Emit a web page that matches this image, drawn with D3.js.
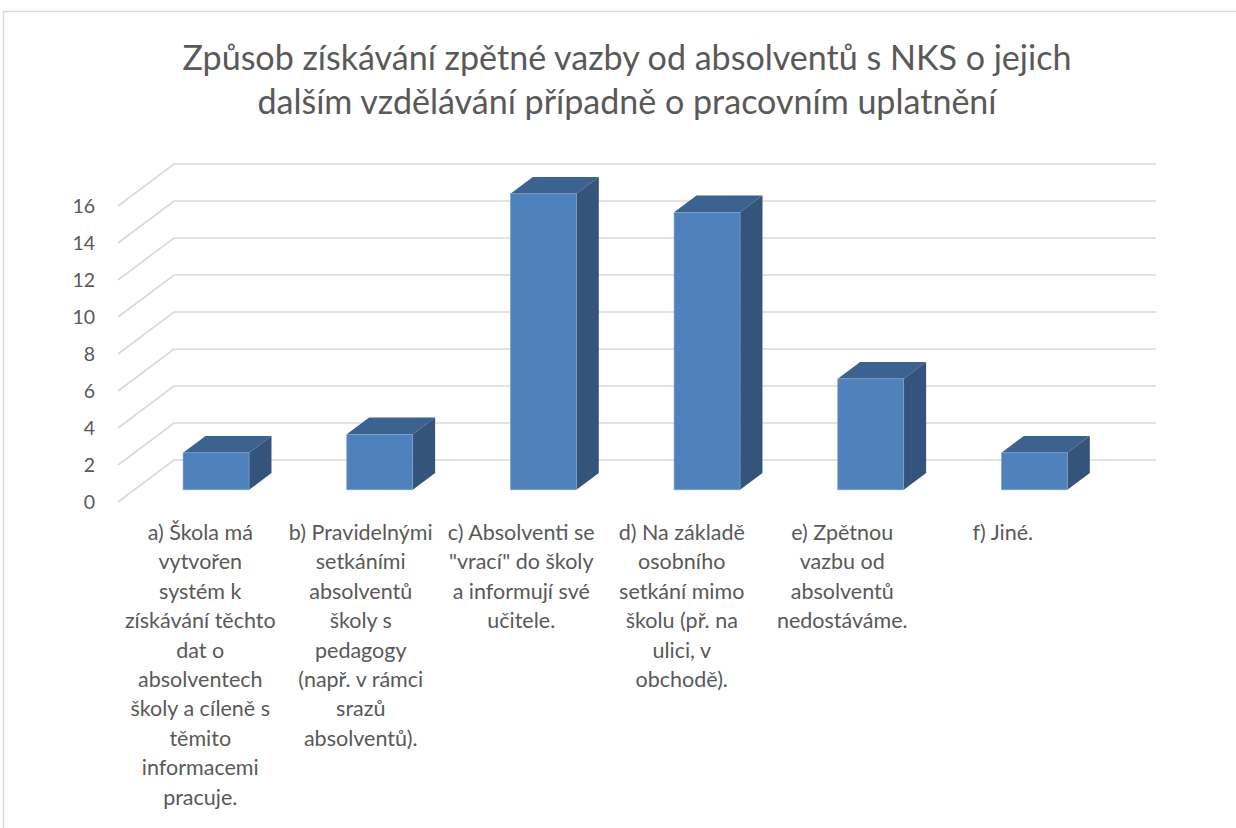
<!DOCTYPE html>
<html>
<head>
<meta charset="utf-8">
<script src="https://cdn.jsdelivr.net/npm/d3@7"></script>
<style>
  body { margin: 0; background: #fff; overflow: hidden; }
  svg { display: block; }
  text { font-family: Lato, "Open Sans", sans-serif; fill: #595959; }
</style>
</head>
<body>
<script>
// data
var titleLines = ["Způsob získávání zpětné vazby od absolventů s NKS o jejich",
                  "dalším vzdělávání případně o pracovním uplatnění"];
var categories = [
    "a) Škola má\nvytvořen\nsystém k\nzískávání těchto\ndat o\nabsolventech\nškoly a cíleně s\ntěmito\ninformacemi\npracuje.",
    "b) Pravidelnými\nsetkáními\nabsolventů\nškoly s\npedagogy\n(např. v rámci\nsrazů\nabsolventů).",
    "c) Absolventi se\n\"vrací\" do školy\na informují své\nučitele.",
    "d) Na základě\nosobního\nsetkání mimo\nškolu (př. na\nulici, v\nobchodě).",
    "e) Zpětnou\nvazbu od\nabsolventů\nnedostáváme.",
    "f) Jiné."
];
var values = [2, 3, 16, 15, 6, 2];
var yTicks = [0, 2, 4, 6, 8, 10, 12, 14, 16];

var width = 1236, height = 828;
var floorY = 502;          // front edge of the floor (value 0)
var DX = 56, DY = 42;      // full depth offset of the 3d box
var t0 = 0.29, t1 = 0.69;  // depth of the bars inside the box

var svg = d3.select("body").append("svg")
    .attr("width", width)
    .attr("height", height);

// chart frame
svg.append("path")
    .attr("d", "M3.5," + height + "V11.5H" + width)
    .attr("fill", "none")
    .attr("stroke", "#d9d9d9")
    .attr("stroke-width", 1.5);

var x = d3.scaleBand().domain(categories).range([118, 1100]);
var xLabel = d3.scaleBand().domain(categories).range([120, 1083]);
var y = d3.scaleLinear().domain([0, 16]).range([0, 296]);

function px(xf, t) { return xf + DX * t; }
function py(v, t) { return floorY - DY * t - y(v); }

// gridlines on side wall and back wall
var x0 = x.range()[0], x1 = x.range()[1];
svg.append("g").selectAll("path")
    .data(yTicks)
    .enter().append("path")
    .attr("d", function(v) {
        return "M" + px(x0, 0) + "," + py(v, 0) +
               "L" + px(x0, 1) + "," + py(v, 1) +
               "H" + px(x1, 1);
    })
    .attr("fill", "none")
    .attr("stroke", "#d9d9d9")
    .attr("stroke-width", 1.6);

// y tick labels
svg.append("g").selectAll("text")
    .data(yTicks)
    .enter().append("text")
    .attr("x", 95)
    .attr("y", function(v) { return py(v, 0); })
    .attr("dy", "0.35em")
    .attr("text-anchor", "end")
    .attr("font-size", 19.5)
    .text(function(d) { return d; });

// bars
var barW = 66;
var bar = svg.append("g").selectAll("g")
    .data(values)
    .enter().append("g");

function corners(d, i) {
    var xc = x(categories[i]) + x.bandwidth() / 2;
    return { l: xc - barW / 2, r: xc + barW / 2, v: d };
}

bar.append("polygon")   // top
    .attr("points", function(d, i) {
        var c = corners(d, i);
        return [[px(c.l, t0), py(d, t0)], [px(c.r, t0), py(d, t0)],
                [px(c.r, t1), py(d, t1)], [px(c.l, t1), py(d, t1)]].join(" ");
    })
    .attr("fill", "#3c628f");

bar.append("polygon")   // right side
    .attr("points", function(d, i) {
        var c = corners(d, i);
        return [[px(c.r, t0), py(d, t0)], [px(c.r, t1), py(d, t1)],
                [px(c.r, t1), py(0, t1)], [px(c.r, t0), py(0, t0)]].join(" ");
    })
    .attr("fill", "#34547b");

bar.append("rect")      // front
    .attr("x", function(d, i) { return px(corners(d, i).l, t0); })
    .attr("y", function(d) { return py(d, t0); })
    .attr("width", barW)
    .attr("height", function(d) { return y(d); })
    .attr("fill", "#4f81bd")
    .attr("stroke", "#7fa3d0")
    .attr("stroke-width", 0.6);

// category labels
var catSize = 21.5;
var cat = svg.append("g").selectAll("text")
    .data(categories)
    .enter().append("text")
    .attr("text-anchor", "middle")
    .attr("font-size", catSize)
    .attr("transform", function(d) {
        return "translate(" + (xLabel(d) + xLabel.bandwidth() / 2) + ",540)";
    });
cat.selectAll("tspan")
    .data(function(d) { return d.split("\n"); })
    .enter().append("tspan")
    .attr("x", 0)
    .attr("y", function(d, i) { return i * 29.4; })
    .text(function(d) { return d; });

// title
var title = svg.append("g").selectAll("text")
    .data(titleLines)
    .enter().append("text")
    .attr("x", 627)
    .attr("y", function(d, i) { return 70 + i * 44; })
    .attr("text-anchor", "middle")
    .attr("font-size", 33)
    .text(function(d) { return d; });

// fit title to the width of the original line
var w = title.node().getComputedTextLength();
title.attr("font-size", 33 * 889 / w);
</script>
</body>
</html>
